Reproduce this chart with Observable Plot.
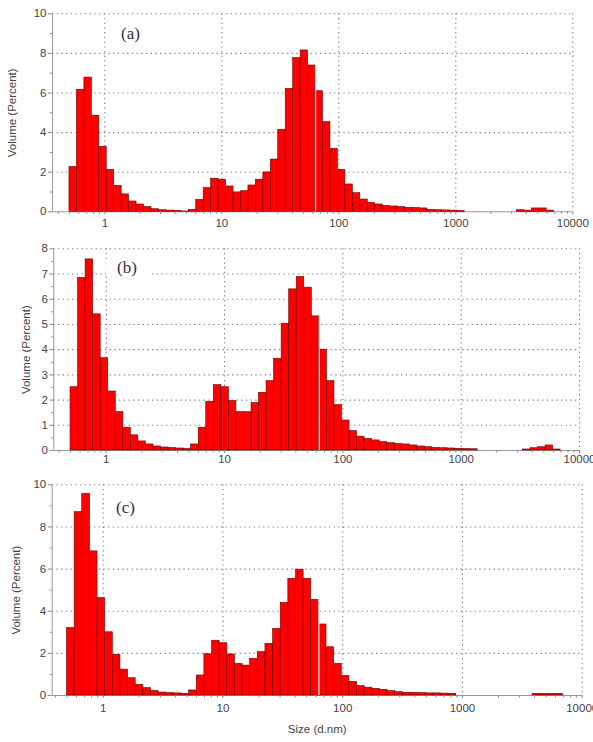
<!DOCTYPE html>
<html><head><meta charset="utf-8">
<script src="https://cdn.jsdelivr.net/npm/d3@7"></script>
<script src="https://cdn.jsdelivr.net/npm/@observablehq/plot@0.6"></script>
<style>
body{margin:0;background:#fff;}
#wrap{position:relative;width:593px;height:742px;overflow:hidden;background:#fff;}
#wrap svg{position:absolute;left:0;}
.lab{position:absolute;font-family:"Liberation Serif","Times New Roman",serif;font-size:17px;line-height:17px;color:#333;background:#fff;}
</style></head><body><div id="wrap"></div>
<script>
// Size classes (d.nm)
const sizes = [0.4, 0.4632, 0.5365, 0.6213, 0.7195, 0.8332, 0.9649, 1.117, 1.294, 1.499,
  1.736, 2.010, 2.328, 2.696, 3.122, 3.615, 4.187, 4.849, 5.615, 6.503,
  7.531, 8.721, 10.10, 11.70, 13.54, 15.69, 18.17, 21.04, 24.36, 28.21,
  32.67, 37.84, 43.82, 50.75, 58.77, 68.06, 78.82, 91.28, 105.7, 122.4,
  141.8, 164.2, 190.1, 220.2, 255.0, 295.3, 342.0, 396.1, 458.7, 531.2,
  615.1, 712.4, 825.0, 955.4, 1106, 1281, 1484, 1718, 1990, 2305,
  2669, 3091, 3580, 4145, 4801, 5560, 6439, 7456, 8635, 10000];

// Volume (%) per size class
const volumeA = [0, 0, 2.26, 6.16, 6.78, 4.85, 3.28, 2.12, 1.31, 0.88,
  0.52, 0.37, 0.24, 0.13, 0.08, 0.06, 0.05, 0.02, 0.10, 0.60,
  1.20, 1.67, 1.62, 1.28, 0.98, 1.04, 1.33, 1.62, 1.99, 2.64,
  4.14, 6.21, 7.76, 8.15, 7.39, 6.09, 4.53, 3.18, 2.12, 1.38,
  0.94, 0.62, 0.45, 0.37, 0.30, 0.27, 0.24, 0.20, 0.19, 0.17,
  0.10, 0.08, 0.07, 0.06, 0.05, 0, 0, 0, 0, 0,
  0, 0, 0.08, 0.06, 0.17, 0.17, 0.06, 0, 0, 0];
const volumeB = [0, 0, 2.51, 6.84, 7.58, 5.40, 3.66, 2.34, 1.52, 0.90,
  0.60, 0.36, 0.24, 0.16, 0.12, 0.10, 0.08, 0.06, 0.24, 0.90,
  1.93, 2.59, 2.51, 1.96, 1.52, 1.52, 1.88, 2.29, 2.75, 3.64,
  5.03, 6.39, 6.88, 6.46, 5.32, 4.00, 2.75, 1.80, 1.19, 0.77,
  0.55, 0.46, 0.40, 0.33, 0.29, 0.26, 0.24, 0.20, 0.16, 0.13,
  0.10, 0.09, 0.08, 0.07, 0.06, 0.05, 0, 0, 0, 0,
  0, 0, 0.04, 0.09, 0.13, 0.20, 0.04, 0, 0, 0];
const volumeC = [0, 0, 3.20, 8.70, 9.57, 6.84, 4.62, 3.00, 1.93, 1.23,
  0.82, 0.51, 0.35, 0.22, 0.14, 0.11, 0.10, 0.08, 0.24, 0.95,
  1.96, 2.60, 2.48, 1.95, 1.50, 1.42, 1.74, 2.06, 2.45, 3.16,
  4.40, 5.54, 5.97, 5.54, 4.54, 3.37, 2.29, 1.50, 0.93, 0.65,
  0.45, 0.37, 0.32, 0.27, 0.21, 0.16, 0.13, 0.12, 0.11, 0.10,
  0.10, 0.09, 0.08, 0, 0, 0, 0, 0, 0, 0,
  0, 0, 0, 0.08, 0.08, 0.08, 0.08, 0, 0, 0];

const xTicks = [1, 10, 100, 1000, 10000];
const yTicksA = [0, 2, 4, 6, 8, 10];
const yMinorA = [1, 3, 5, 7, 9];
const yTicksB = [0, 1, 2, 3, 4, 5, 6, 7, 8];
const yMinorB = [0.5, 1.5, 2.5, 3.5, 4.5, 5.5, 6.5, 7.5];
const yTicksC = [0, 2, 4, 6, 8, 10];
const yMinorC = [1, 3, 5, 7, 9];
const panelLabels = ["(a)", "(b)", "(c)"];
const yLabel = "Volume (Percent)";
const xLabel = "Size (d.nm)";
const cursorBin = 35; // bin whose left edge is drawn as a light marker line

const panels = [
  {values: volumeA, yTicks: yTicksA, yMinor: yMinorA, label: panelLabels[0],
   top: 0, height: 234, mt: 13.3, mb: 22.7, ml: 52, mr: 20.7, xmin: 0.357,
   yLabelOffset: 45, xPad: 4, labPos: [121, 25], labPad: "0"},
  {values: volumeB, yTicks: yTicksB, yMinor: yMinorB, label: panelLabels[1],
   top: 234, height: 238, mt: 14.3, mb: 22, ml: 53.3, mr: 14, xmin: 0.36,
   yLabelOffset: 32, xPad: 1.5, labPos: [106, 259], labPad: "0 15px 0 11px"},
  {values: volumeC, yTicks: yTicksC, yMinor: yMinorC, label: panelLabels[2],
   top: 472, height: 270, mt: 12.3, mb: 47, ml: 51.7, mr: 11.3, xmin: 0.375,
   yLabelOffset: 40, xPad: 5, labPos: [116, 499], labPad: "0", xLabel: true}
];

const wrap = document.getElementById("wrap");
const gridStyle = {stroke: "#808080", strokeOpacity: 1, strokeWidth: 1.1, strokeDasharray: "1.3,3.4"};

for (const p of panels) {
  const bins = sizes.map((s, i) => {
    const lo = i > 0 ? Math.sqrt(sizes[i - 1] * s) : s / Math.sqrt(sizes[1] / sizes[0]);
    const hi = i < sizes.length - 1 ? Math.sqrt(s * sizes[i + 1]) : s * Math.sqrt(s / sizes[i - 1]);
    return {size: s, x1: lo, x2: hi, v: p.values[i]};
  }).filter(d => d.v > 0);
  const cursor = [{x: Math.sqrt(sizes[cursorBin - 1] * sizes[cursorBin]),
                   h: Math.max(p.values[cursorBin - 1], p.values[cursorBin])}];
  const minorX = d3.scaleLog().domain([p.xmin, 10000]).ticks().filter(t => !xTicks.includes(t));
  const yMax = p.yTicks[p.yTicks.length - 1];

  const svg = Plot.plot({
    width: 593, height: p.height,
    marginTop: p.mt, marginBottom: p.mb, marginLeft: p.ml, marginRight: p.mr,
    x: {type: "log", domain: [p.xmin, 10000]},
    y: {domain: [0, yMax]},
    style: {fontFamily: "Arial, 'Liberation Sans', sans-serif", fontSize: "11.5px", color: "#333", background: "transparent", overflow: "visible"},
    marks: [
      Plot.gridY(p.yTicks.filter(t => t > 0), gridStyle),
      Plot.gridX(xTicks, gridStyle),
      Plot.ruleY([0], {stroke: "#9a9a9a"}),
      Plot.ruleX([p.xmin], {stroke: "#9a9a9a"}),
      Plot.rectY(bins, {x1: "x1", x2: "x2", y: "v", fill: "#ff0000", stroke: "#6b0000", strokeWidth: 0.6}),
      Plot.ruleX(cursor, {x: "x", y1: 0, y2: "h", stroke: "#dcdcdc", strokeWidth: 1.3}),
      Plot.axisY(p.yTicks, {tickSize: 4, tickPadding: 2, stroke: "#888", fill: "#444",
        label: yLabel, labelAnchor: "center", labelOffset: p.yLabelOffset, labelArrow: "none"}),
      Plot.axisY(p.yMinor, {tickSize: 2, stroke: "#888", tickFormat: () => "", label: null}),
      Plot.axisX(xTicks, {tickSize: 3, tickPadding: p.xPad, stroke: "#888", fill: "#444",
        tickFormat: d => String(d),
        label: p.xLabel ? xLabel : null, labelAnchor: "center", labelOffset: 37, labelArrow: "none"}),
      Plot.axisX(minorX, {tickSize: 2.5, stroke: "#888", tickFormat: () => "", label: null})
    ]
  });
  svg.style.top = p.top + "px";
  wrap.appendChild(svg);

  const lab = document.createElement("div");
  lab.className = "lab";
  lab.textContent = p.label;
  lab.style.left = p.labPos[0] + "px";
  lab.style.top = p.labPos[1] + "px";
  lab.style.padding = p.labPad;
  wrap.appendChild(lab);
}
</script>
</body></html>
